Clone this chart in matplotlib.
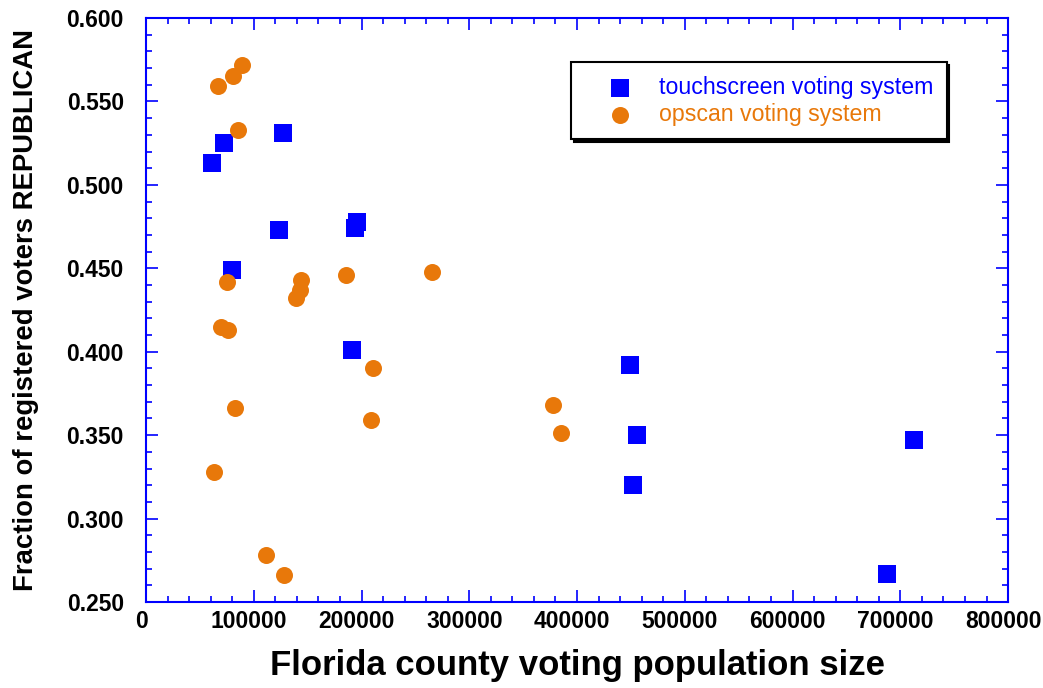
import matplotlib
matplotlib.use("Agg")
import matplotlib.pyplot as plt
from matplotlib.ticker import MultipleLocator, FormatStrFormatter
from matplotlib.transforms import ScaledTranslation

# Florida counties: voting population vs fraction of registered Republicans
touch_pop = [61300, 72400, 127100, 79800, 123400, 195800, 194000, 190900,
             449200, 455700, 452000, 712800, 687400]
touch_rep = [0.513, 0.525, 0.531, 0.449, 0.473, 0.478, 0.474, 0.401,
             0.392, 0.350, 0.320, 0.347, 0.267]

opscan_pop = [66800, 80700, 89100, 85400, 74900, 143600, 142900, 139500,
              185600, 265200, 69300, 76400, 82600, 210400, 208500, 377700,
              385100, 63100, 111400, 128400]
opscan_rep = [0.559, 0.565, 0.572, 0.533, 0.442, 0.443, 0.437, 0.432,
              0.446, 0.448, 0.415, 0.413, 0.366, 0.390, 0.359, 0.368,
              0.351, 0.328, 0.278, 0.266]

BLUE = "#0000FF"
ORANGE = "#E8780A"

plt.rcParams["font.family"] = ["Liberation Sans", "DejaVu Sans"]

fig = plt.figure(figsize=(10.43, 6.88), dpi=100)
ax = fig.add_axes([0.140, 0.125, 0.8265, 0.8488])

ax.scatter(touch_pop, touch_rep, marker="s", s=150, color=BLUE,
           linewidths=0, zorder=3, label="touchscreen voting system")
ax.scatter(opscan_pop, opscan_rep, marker="o", s=150, color=ORANGE,
           linewidths=0, zorder=3, label="opscan voting system")

ax.set_xlim(0, 800000)
ax.set_ylim(0.25, 0.6)
ax.xaxis.set_major_locator(MultipleLocator(100000))
ax.xaxis.set_minor_locator(MultipleLocator(20000))
ax.yaxis.set_major_locator(MultipleLocator(0.05))
ax.yaxis.set_minor_locator(MultipleLocator(0.01))
ax.yaxis.set_major_formatter(FormatStrFormatter("%.3f"))

for side in ax.spines.values():
    side.set_color(BLUE)
    side.set_linewidth(1.5)

ax.tick_params(which="both", direction="in", top=True, right=True,
               color=BLUE, width=1.2, labelsize=16.5)
ax.tick_params(which="major", length=8.5)
ax.tick_params(which="minor", length=4.3)
ax.tick_params(axis="y", which="major", pad=16)
ax.tick_params(axis="x", which="major", pad=6)
shift = ScaledTranslation(-5 / 100, 0, fig.dpi_scale_trans)
for lab in ax.get_xticklabels():
    lab.set_fontweight("bold")
    lab.set_transform(lab.get_transform() + shift)
for lab in ax.get_yticklabels():
    lab.set_fontweight("bold")

ax.set_xlabel("Florida county voting population size", fontsize=25,
              fontweight="bold", labelpad=11.5)
ax.set_ylabel("Fraction of registered voters REPUBLICAN", fontsize=19.8,
              fontweight="bold", labelpad=20)

leg = ax.legend(loc="upper left", bbox_to_anchor=(0.493, 0.924),
                frameon=True, fancybox=False,
                shadow={"color": "black", "alpha": 1},
                fontsize=16.7, handletextpad=0.1, borderpad=0.58,
                labelspacing=0.17, markerscale=1.0, borderaxespad=0,
                handlelength=3.1)
leg.get_frame().set_edgecolor("black")
leg.get_frame().set_linewidth(1.5)
leg.get_frame().set_alpha(1)
for txt, c in zip(leg.get_texts(), [BLUE, ORANGE]):
    txt.set_color(c)

fig.savefig("out.png", dpi=100)
